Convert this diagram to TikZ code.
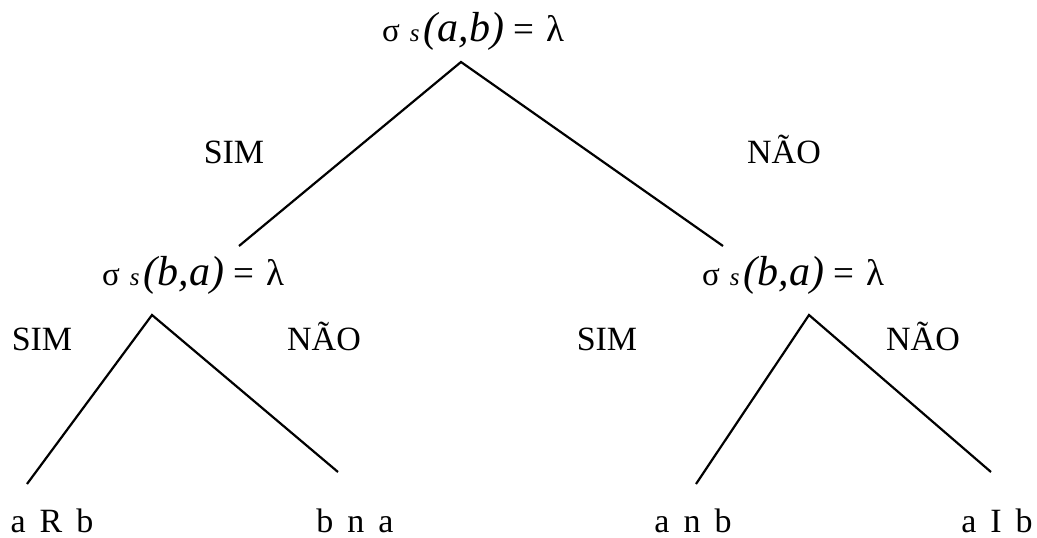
\documentclass[tikz,border=0pt]{standalone}
\usepackage{fontspec}
\setmainfont{Liberation Serif}
\newcommand{\sigform}[1]{{\fontsize{33}{36}\selectfont σ}\hspace{10pt}{\fontsize{25}{28}\selectfont\itshape s}\hspace{4pt}{\fontsize{42}{46}\selectfont\itshape (#1)}\hspace{9pt}{\fontsize{37}{40}\selectfont =\hspace{12pt}λ}}
\newcommand{\wsp}{\hspace{14pt}}
\tikzset{
  lbl/.style={inner sep=0pt, anchor=base, font=\fontsize{34}{36}\selectfont},
  frm/.style={inner sep=0pt, anchor=base west},
  edge/.style={draw=black, line width=2.2pt}
}
\begin{document}
\begin{tikzpicture}[x=1pt,y=-1pt]
\useasboundingbox (0,0) rectangle (1037,538);
% formulas
\node[frm] (top) at (382,41) {\sigform{a,b}};
\node[frm] (fl) at (102,285) {\sigform{b,a}};
\node[frm] (fr) at (702,285) {\sigform{b,a}};
% branch labels
\node[lbl] (s1) at (234,163) {SIM};
\node[lbl] (n1) at (784,163) {NÃO};
\node[lbl] (s2) at (42,350) {SIM};
\node[lbl] (n2) at (324,350) {NÃO};
\node[lbl] (s3) at (607,350) {SIM};
\node[lbl] (n3) at (923,350) {NÃO};
% leaves
\node[lbl] (l1) at (52,532) {a\wsp R\wsp b};
\node[lbl] (l2) at (355,532) {b\wsp n\wsp a};
\node[lbl] (l3) at (693,532) {a\wsp n\wsp b};
\node[lbl] (l4) at (997,532) {a\wsp I\wsp b};
% connector end points
\coordinate (ta) at (461,62);
\coordinate (tl) at (239,246);
\coordinate (tr) at (723,246);
\coordinate (la) at (152,315);
\coordinate (ll) at (27,484);
\coordinate (lr) at (338,472);
\coordinate (ra) at (809,315);
\coordinate (rl) at (696,484);
\coordinate (rr) at (991,472);
\draw[edge] (tl) -- (ta) -- (tr);
\draw[edge] (ll) -- (la) -- (lr);
\draw[edge] (rl) -- (ra) -- (rr);
\end{tikzpicture}
\end{document}
